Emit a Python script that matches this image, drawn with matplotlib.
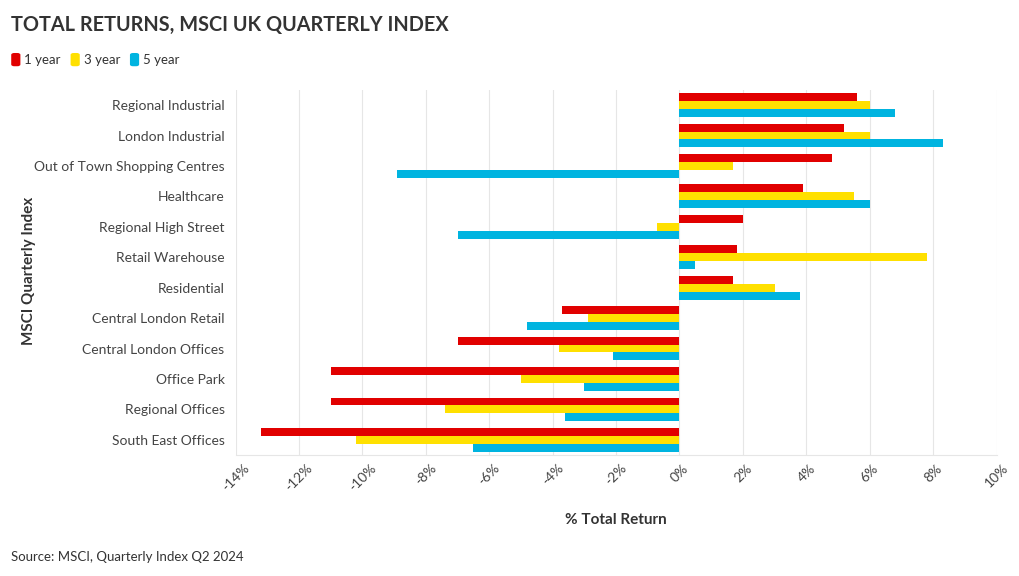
import numpy as np
import matplotlib
matplotlib.use("Agg")
import matplotlib.pyplot as plt
from matplotlib.patches import FancyBboxPatch

plt.rcParams['font.family'] = ['Lato', 'DejaVu Sans']

# Categories, top to bottom
categories = ["Regional Industrial", "London Industrial", "Out of Town Shopping Centres",
              "Healthcare", "Regional High Street", "Retail Warehouse", "Residential",
              "Central London Retail", "Central London Offices", "Office Park",
              "Regional Offices", "South East Offices"]

# Total returns (%)
one_year = [5.6, 5.2, 4.8, 3.9, 2.0, 1.8, 1.7, -3.7, -7.0, -11.0, -11.0, -13.2]
three_year = [6.0, 6.0, 1.7, 5.5, -0.7, 7.8, 3.0, -2.9, -3.8, -5.0, -7.4, -10.2]
five_year = [6.8, 8.3, -8.9, 6.0, -7.0, 0.5, 3.8, -4.8, -2.1, -3.0, -3.6, -6.5]

series_names = ["1 year", "3 year", "5 year"]
colors = ["#E10000", "#FFE000", "#00B4E0"]
ticks = list(range(-14, 11, 2))

fig = plt.figure(figsize=(10.2, 5.76), dpi=100)
ax = fig.add_axes([0.231, 0.21, 0.746, 0.634])

y = np.arange(len(categories))
bar_h = 0.26
for i, (vals, col, name) in enumerate(zip([one_year, three_year, five_year], colors, series_names)):
    ax.barh(y + (i - 1) * bar_h, vals, height=bar_h, color=col, label=name, zorder=3)

ax.set_yticks(y)
ax.set_yticklabels(categories, fontsize=10, color="#444444")
ax.set_ylim(len(categories) - 0.5, -0.5)
ax.set_xlim(-14, 10)
ax.set_xticks(ticks)
ax.set_xticklabels([f"{t}%" for t in ticks], rotation=45, fontsize=10, color="#444444",
                   ha="center", va="top")
ax.tick_params(axis="y", length=0, pad=8)
ax.tick_params(axis="x", length=0, pad=5)
ax.grid(axis="x", color="#e6e6e6", linewidth=0.8, zorder=0)
for s in ["top", "right", "left"]:
    ax.spines[s].set_visible(False)
ax.spines["bottom"].set_color("#e6e6e6")

ax.set_xlabel("% Total Return", fontsize=11, fontweight="bold", color="#333333", labelpad=14)
fig.text(0.028, 0.53, "MSCI Quarterly Index", rotation=90, fontsize=11, fontweight="bold",
         color="#333333", ha="center", va="center")

fig.text(0.011, 0.957, "TOTAL RETURNS, MSCI UK QUARTERLY INDEX", fontsize=14.3, fontweight="bold",
         color="#333333", ha="left", va="center")

# legend with rounded swatches
lx = 0.011
for name, col in zip(series_names, colors):
    fig.patches.append(FancyBboxPatch((lx, 0.885), 0.009, 0.023, boxstyle="round,pad=0,rounding_size=0.003",
                                      transform=fig.transFigure, facecolor=col, edgecolor="none"))
    fig.text(lx + 0.013, 0.896, name, fontsize=9.5, color="#333333", ha="left", va="center")
    lx += 0.013 + len(name) * 0.0052 + 0.014

fig.text(0.011, 0.033, "Source: MSCI, Quarterly Index Q2 2024", fontsize=9.5, color="#333333",
         ha="left", va="center")

fig.savefig("out.png", dpi=100)
